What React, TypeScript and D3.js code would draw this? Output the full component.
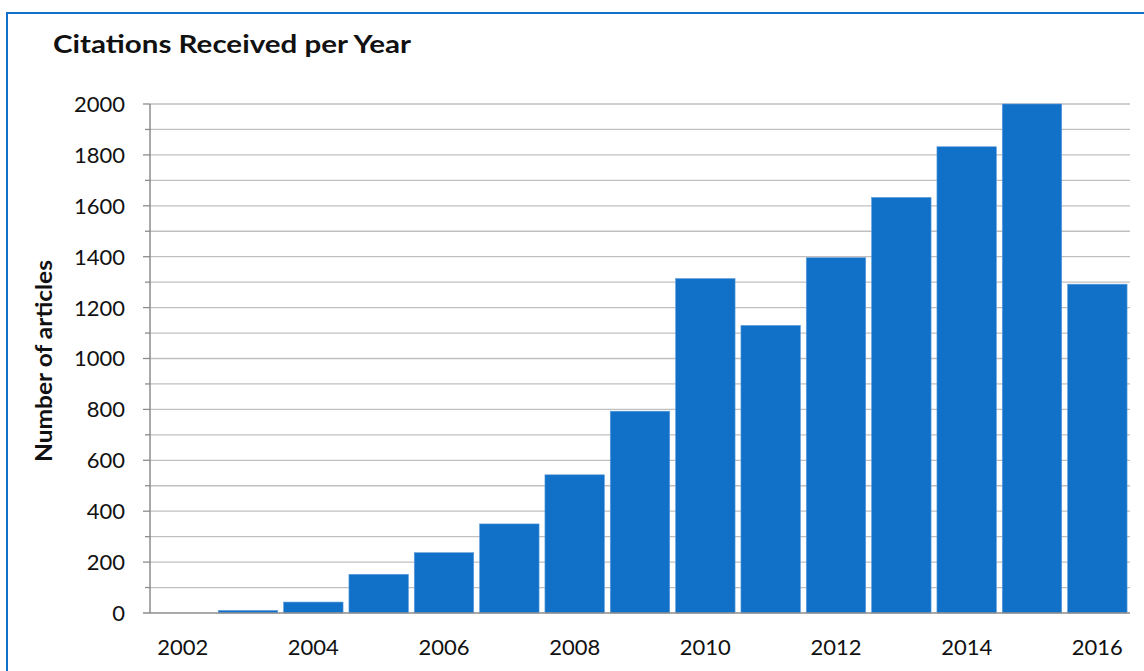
import * as d3 from "d3";

const years = [2002, 2003, 2004, 2005, 2006, 2007, 2008, 2009, 2010, 2011, 2012, 2013, 2014, 2015, 2016];
const citations = [0, 10, 43, 152, 237, 350, 543, 793, 1314, 1130, 1396, 1633, 1832, 2000, 1292];
const yMajorTicks = [0, 200, 400, 600, 800, 1000, 1200, 1400, 1600, 1800, 2000];
const xLabelYears = [2002, 2004, 2006, 2008, 2010, 2012, 2014, 2016];

const W = 1144;
const H = 671;
const plot = { left: 150, right: 1130, top: 104, bottom: 613 };
const blue = "#1170c8";
const font = "Lato, 'Open Sans', sans-serif";

export default function App() {
  const x = d3.scaleBand<number>()
    .domain(years)
    .range([plot.left, plot.right])
    .paddingInner(0.09)
    .paddingOuter(0.045);

  const y = d3.scaleLinear().domain([0, 2000]).range([plot.bottom, plot.top]);
  const gridTicks = d3.range(100, 2001, 100);

  return (
    <svg width={W} height={H} style={{ position: "absolute", left: 0, top: 0, display: "block", background: "#fff" }}>
      {/* outer frame, runs off the right and bottom edges */}
      <rect x={7} y={13} width={W + 20} height={H + 20} fill="none" stroke={blue} strokeWidth={2} />

      <text x={53} y={53} fontFamily={font} fontWeight="700" fontSize={25} fill="#111"
        textLength={358} lengthAdjust="spacingAndGlyphs">
        Citations Received per Year
      </text>

      {/* gridlines every 100 */}
      {gridTicks.map((t) => (
        <line key={t} x1={plot.left} x2={plot.right} y1={y(t)} y2={y(t)} stroke="#c0c0c0" strokeWidth={1.3} />
      ))}

      {/* bars */}
      {years.map((yr, i) => citations[i] > 0 && (
        <rect
          key={yr}
          x={x(yr)}
          y={y(citations[i])}
          width={x.bandwidth()}
          height={plot.bottom - y(citations[i])}
          fill={blue}
          stroke="#5d9cdc"
          strokeWidth={0.6}
        />
      ))}

      {/* y axis */}
      <line x1={plot.left} x2={plot.left} y1={plot.top} y2={plot.bottom} stroke="#8c8c8c" strokeWidth={1.5} />
      {gridTicks.map((t) => (
        <line key={t} x1={t % 200 === 0 ? plot.left - 7 : plot.left - 5} x2={plot.left} y1={y(t)} y2={y(t)} stroke="#8c8c8c" strokeWidth={1.3} />
      ))}
      <line x1={plot.left - 7} x2={plot.right} y1={plot.bottom} y2={plot.bottom} stroke="#8c8c8c" strokeWidth={1.5} />

      {yMajorTicks.map((t) => (
        <text key={t} x={125} y={y(t)} dy="0.36em" textAnchor="end" fontFamily={font} fontSize={22} fill="#111">
          {t}
        </text>
      ))}

      {xLabelYears.map((yr) => (
        <text
          key={yr}
          x={(x(yr) ?? 0) + x.bandwidth() / 2}
          y={655}
          textAnchor="middle"
          fontFamily={font}
          fontSize={22}
          fill="#111"
        >
          {yr}
        </text>
      ))}

      <text
        transform={`translate(52, 361) rotate(-90)`}
        textAnchor="middle"
        fontFamily={font}
        fontWeight="700"
        fontSize={23}
        fill="#111"
        textLength={202}
        lengthAdjust="spacingAndGlyphs"
      >
        Number of articles
      </text>
    </svg>
  );
}
